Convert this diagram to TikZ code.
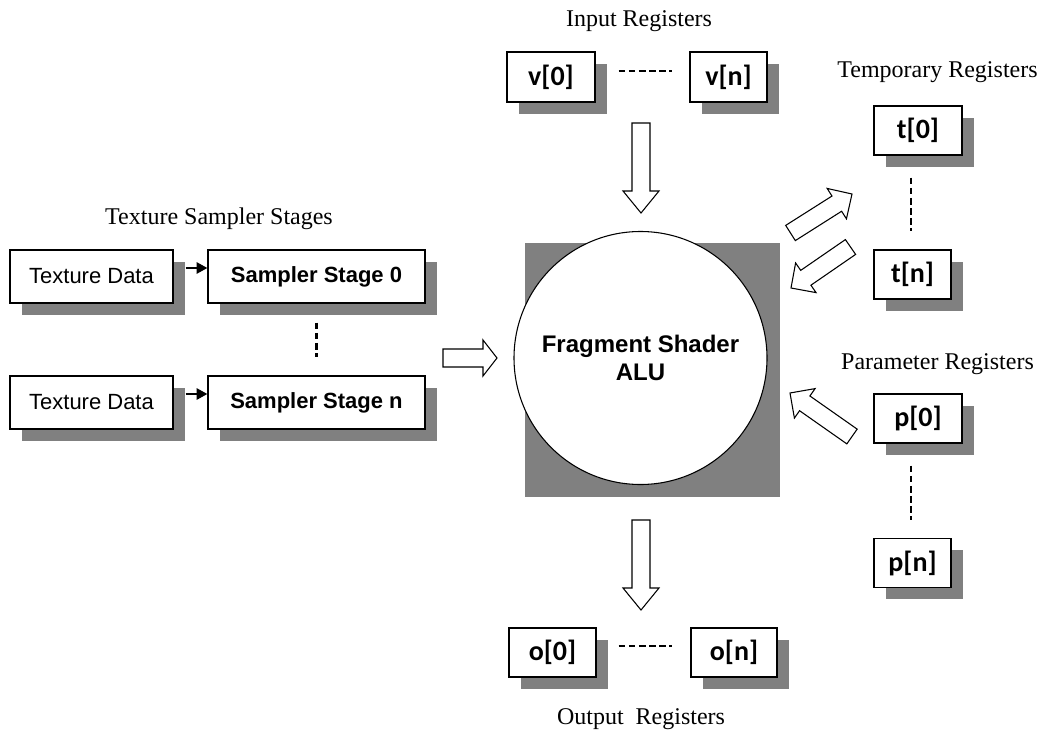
\documentclass[tikz,border=0pt]{standalone}
\usepackage{fontspec}
\setmainfont{Liberation Serif}
\newfontfamily\arialf{Liberation Sans}
\newfontfamily\calf{Carlito}
\usetikzlibrary{calc,shadows,arrows.meta,backgrounds}
\newcommand\blockarrow[3]{% tail, tip, head length
  \path ($(#2)!#3!(#1)$) coordinate (hb);
  \draw[barrow] ($(#1)!6.75pt!90:(#2)$) -- ($(hb)!6.75pt!-90:(#1)$) -- ($(hb)!13.5pt!-90:(#1)$) -- (#2)
     -- ($(hb)!13.5pt!90:(#1)$) -- ($(hb)!6.75pt!90:(#1)$) -- ($(#1)!6.75pt!-90:(#2)$) -- cycle;}
\tikzset{
  shd/.style={drop shadow={shadow xshift=8.8pt, shadow yshift=-8.8pt, fill=gray, opacity=1}},
  reg/.style={draw, line width=1pt, fill=white, shd, inner sep=0pt, minimum height=36.75pt,
     font=\calf\bfseries\fontsize{21}{23}\selectfont},
  tex/.style={draw, line width=1pt, fill=white, shd, inner sep=0pt, minimum height=39.75pt,
     font=\arialf\fontsize{16.5}{18}\selectfont},
  title/.style={anchor=base, inner sep=0pt, font=\fontsize{18}{20}\selectfont},
  barrow/.style={draw, line width=0.8pt, fill=white, line join=miter},
  dashline/.style={line width=1.6pt, dash pattern=on 5pt off 2.6pt},
  tarrow/.style={line width=1.3pt, -{Triangle[length=8pt,width=8.5pt]}}
}
\begin{document}
\begin{tikzpicture}[x=0.75pt,y=-0.75pt]
\useasboundingbox (0,0) rectangle (1042,735);
% titles
\node[title] (tin) at (639,27) {Input Registers};
\node[title] (ttmp) at (937.5,78) {Temporary Registers};
\node[title] (tpar) at (937.5,369) {Parameter Registers};
\node[title] (ttex) at (219,224) {Texture Sampler Stages};
\node[title] (tout) at (641,724) {Output\ \ Registers};
% ALU
\node[circle, draw, line width=0.8pt, fill=white, minimum size=189.75pt, inner sep=0pt,
  align=center, font=\arialf\bfseries\fontsize{18}{21}\selectfont] (alu) at (640.5,358)
  {Fragment Shader\\ALU};
\begin{scope}[on background layer]
\fill[gray] ($(alu.west |- alu.south)+(12,12)$) rectangle ($(alu.east |- alu.north)+(12,12)$);
\end{scope}
% input registers
\node[reg, minimum width=66pt, minimum height=37.5pt] (v0) at (551,77) {v[0]};
\node[reg, minimum width=57.75pt, minimum height=37.5pt] (vn) at (728.5,77) {v[n]};
\draw[dashline] ($(v0.east)+(23,-6)$) -- ($(vn.west)+(-17,-6)$);
% temporary registers
\node[reg, minimum width=66pt] (t0) at (918,130.5) {t[0]};
\node[reg, minimum width=57.75pt] (tn) at (912.5,274.5) {t[n]};
\draw[dashline] ($(t0.south -| tn.north)+(-1.5,22)$) -- ($(tn.north)+(-1.5,-18)$);
% parameter registers
\node[reg, minimum width=66pt] (p0) at (918,418.5) {p[0]};
\node[reg, minimum width=57.75pt] (pn) at (912.5,563) {p[n]};
\draw[dashline] ($(p0.south -| pn.north)+(-1.5,22)$) -- ($(pn.north)+(-1.5,-18)$);
% output registers
\node[reg, minimum width=65.25pt] (o0) at (552.5,652.5) {o[0]};
\node[reg, minimum width=64.5pt] (on) at (734,652.5) {o[n]};
\draw[dashline] ($(o0.east)+(22,-6.5)$) -- ($(on.west)+(-18,-6.5)$);
% texture sampler stages
\node[tex, minimum width=122.25pt] (td0) at (91.5,276.5) {Texture Data};
\node[tex, minimum width=162.75pt, font=\arialf\bfseries\fontsize{16.5}{18}\selectfont] (ss0) at (316.5,276.5) {Sampler Stage 0};
\node[tex, minimum width=122.25pt] (tdn) at (91.5,402.5) {Texture Data};
\node[tex, minimum width=162.75pt, font=\arialf\bfseries\fontsize{16.5}{18}\selectfont] (ssn) at (316.5,402.5) {Sampler Stage n};
\draw[tarrow] ($(td0.east)+(12,-8.5)$) -- ($(ss0.west)+(0,-8.5)$);
\draw[tarrow] ($(tdn.east)+(12,-8.5)$) -- ($(ssn.west)+(0,-8.5)$);
\draw[dashline] ($(ss0.south)+(0,19)$) -- ($(ssn.north)+(0,-18)$);
% block arrows
\coordinate (inT) at (641,123); \coordinate (inH) at (641,213);
\coordinate (outT) at (641,520); \coordinate (outH) at (641,610);
\coordinate (texT) at (443,358); \coordinate (texH) at (497,358);
\coordinate (tuT) at (790.5,233); \coordinate (tuH) at (852,194);
\coordinate (tdT) at (850.5,247); \coordinate (tdH) at (791,288);
\coordinate (parT) at (852,436.5); \coordinate (parH) at (790,393);
\blockarrow{inT}{inH}{16.5pt}
\blockarrow{outT}{outH}{16.5pt}
\blockarrow{texT}{texH}{10.5pt}
\blockarrow{tuT}{tuH}{13.5pt}
\blockarrow{tdT}{tdH}{13.5pt}
\blockarrow{parT}{parH}{13.5pt}
\end{tikzpicture}
\end{document}
